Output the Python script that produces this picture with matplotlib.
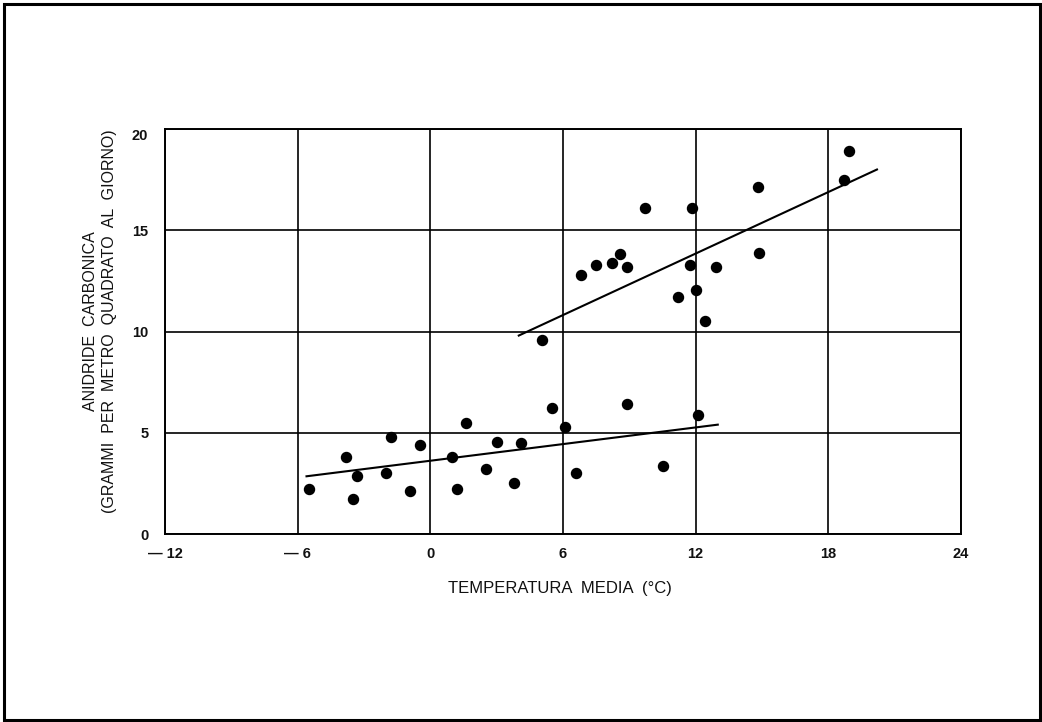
import matplotlib
matplotlib.use("Agg")
import matplotlib.pyplot as plt
from matplotlib.patches import Rectangle

# Mean temperature (°C) and CO2 flux (g per m² per day), lower cluster
temp_low = [-5.5, -3.8, -3.3, -3.5, -1.8, -2.0, -0.9, -0.45, 1.0, 1.2, 1.6,
            2.5, 3.0, 3.8, 4.1, 5.5, 6.1, 6.6, 8.9, 10.5, 12.1]
co2_low = [2.2, 3.8, 2.85, 1.75, 4.8, 3.0, 2.1, 4.4, 3.8, 2.2, 5.5,
           3.2, 4.55, 2.5, 4.5, 6.2, 5.3, 3.0, 6.4, 3.35, 5.9]

# Upper cluster
temp_high = [5.05, 6.8, 7.5, 8.2, 8.6, 8.9, 9.7, 11.85, 11.75, 12.0, 11.2,
             12.4, 12.9, 14.8, 14.85, 18.95, 18.7]
co2_high = [9.6, 12.8, 13.3, 13.4, 13.85, 13.2, 16.1, 16.1, 13.3, 12.05, 11.7,
            10.5, 13.2, 17.15, 13.9, 18.9, 17.5]

# Fitted trend lines (end points)
fit_low_x = [-5.6, 13.0]
fit_low_y = [2.85, 5.4]
fit_high_x = [4.0, 20.2]
fit_high_y = [9.8, 18.0]

x_ticks = [-12, -6, 0, 6, 12, 18, 24]
x_tick_labels = ["— 12", "— 6", "0", "6", "12", "18", "24"]
y_ticks = [0, 5, 10, 15, 20]
y_tick_labels = ["0", "5", "10", "15", "20"]

plt.rcParams["font.family"] = ["Liberation Sans", "DejaVu Sans"]

fig = plt.figure(figsize=(10.42, 7.22), dpi=100)
fig.patch.set_facecolor("white")
ax = fig.add_axes([165 / 1042, 1 - 534 / 722, 796 / 1042, 405 / 722])

ax.set_xlim(-12, 24)
ax.set_ylim(0, 20)
ax.set_xticks(x_ticks)
ax.set_xticklabels(x_tick_labels)
ax.set_yticks(y_ticks)
ax.set_yticklabels(y_tick_labels)
ax.tick_params(length=0, labelsize=10.5)
ax.tick_params(axis="x", pad=9)
ax.tick_params(axis="y", pad=12)
for lab in ax.get_xticklabels() + ax.get_yticklabels():
    lab.set_fontweight("bold")
    lab.set_color("#111111")
# nudge the top value label slightly down, below the frame line
ax.get_yticklabels()[-1].set_va("top")

ax.grid(True, color="black", linewidth=1.2)
ax.set_axisbelow(True)
for sp in ax.spines.values():
    sp.set_linewidth(1.4)
    sp.set_color("black")

ax.scatter(temp_low, co2_low, s=52, color="black", zorder=3)
ax.scatter(temp_high, co2_high, s=52, color="black", zorder=3)
ax.plot(fit_low_x, fit_low_y, color="black", linewidth=1.5, zorder=3)
ax.plot(fit_high_x, fit_high_y, color="black", linewidth=1.5, zorder=3)

fig.text(560 / 1042, 1 - 588 / 722, "TEMPERATURA  MEDIA  (°C)",
         ha="center", va="center", fontsize=12, color="#111111")
fig.text(100 / 1042, 1 - 321 / 722,
         "ANIDRIDE  CARBONICA\n(GRAMMI  PER  METRO  QUADRATO  AL  GIORNO)",
         ha="center", va="center", rotation=90, multialignment="center",
         fontsize=11.5, color="#111111", linespacing=1.35)

# Outer frame around the whole figure
fig.patches.append(Rectangle((4 / 1042, 2 / 722), 1036 / 1042, 716 / 722,
                             transform=fig.transFigure, fill=False,
                             linewidth=2.2, edgecolor="black"))

fig.savefig("out.png", dpi=100)
